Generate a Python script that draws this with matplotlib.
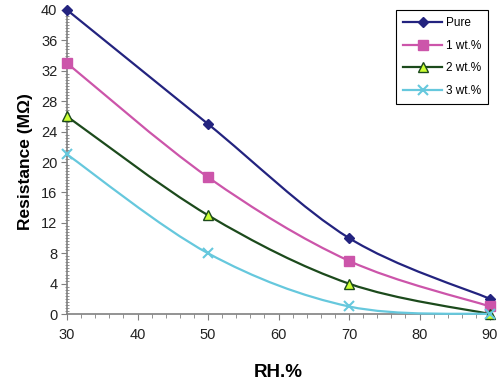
import matplotlib.pyplot as plt
import numpy as np
from matplotlib.path import Path
from matplotlib.patches import PathPatch
from matplotlib.lines import Line2D
from matplotlib.ticker import MultipleLocator

plt.rcParams['font.family'] = ['Liberation Sans', 'DejaVu Sans']

rh = [30, 50, 70, 90]
pure = [40, 25, 10, 2]
wt1 = [33, 18, 7, 1]
wt2 = [26, 13, 4, 0]
wt3 = [21, 8, 1, 0]
labels = ['Pure', '1 wt.%', '2 wt.%', '3 wt.%']


def smooth_path(xs, ys):
    # Excel-style smoothed line: cubic Bezier through each data point
    p = np.column_stack([xs, ys]).astype(float)
    n = len(p)
    verts = [p[0]]
    codes = [Path.MOVETO]
    for i in range(n - 1):
        p0 = p[i - 1] if i > 0 else p[i]
        p3 = p[i + 2] if i + 2 < n else p[i + 1]
        c1 = p[i] + (p[i + 1] - p0) / 6
        c2 = p[i + 1] - (p3 - p[i]) / 6
        verts += [c1, c2, p[i + 1]]
        codes += [Path.CURVE4] * 3
    return Path(verts, codes)


fig = plt.figure(figsize=(5.0, 3.83), dpi=100)
ax = fig.add_axes([0.134, 0.18, 0.846, 0.794])

series = [
    (pure, '#23237f', dict(marker='D', ms=5, mfc='#23237f', mec='#23237f')),
    (wt1, '#cc55aa', dict(marker='s', ms=7, mfc='#cc55aa', mec='#cc55aa')),
    (wt2, '#1c4a1c', dict(marker='^', ms=7, mfc='#ccff33', mec='#1c4a1c', mew=1)),
    (wt3, '#66c8dd', dict(marker='x', ms=7, mec='#66c8dd', mew=1.5)),
]

handles = []
for (vals, col, mk), lab in zip(series, labels):
    patch = PathPatch(smooth_path(rh, vals), facecolor='none', edgecolor=col,
                      lw=1.6, clip_on=False, zorder=3)
    ax.add_patch(patch)
    ax.plot(rh, vals, ls='none', clip_on=False, zorder=4, **mk)
    handles.append(Line2D([], [], color=col, lw=1.6, **mk))

ax.set_xlim(30, 90)
ax.set_ylim(0, 40)
ax.xaxis.set_major_locator(MultipleLocator(10))
ax.xaxis.set_minor_locator(MultipleLocator(2))
ax.yaxis.set_major_locator(MultipleLocator(4))
ax.yaxis.set_minor_locator(MultipleLocator(0.4))

for s in ['top', 'right']:
    ax.spines[s].set_visible(False)
for s in ['left', 'bottom']:
    ax.spines[s].set_color('#808080')
    ax.spines[s].set_linewidth(1.2)

ax.tick_params(axis='both', which='major', labelsize=10.5, color='#808080',
               length=4, direction='out', pad=3, labelcolor='#222222')
ax.tick_params(axis='x', which='minor', color='#808080', length=3, direction='out')
ax.tick_params(axis='y', which='minor', color='#808080', length=3, direction='inout')
ax.tick_params(axis='x', which='major', pad=6)

ax.set_xlabel('RH.%', fontsize=13.5, fontweight='bold', labelpad=16)
ax.set_ylabel('Resistance (MΩ)', fontsize=12.5, fontweight='bold', labelpad=6)

leg = ax.legend(handles, labels, loc='upper right', bbox_to_anchor=(0.995, 1.0),
                borderaxespad=0, fontsize=8.5, frameon=True, fancybox=False,
                framealpha=1, edgecolor='black', handlelength=3.3,
                handletextpad=0.3, borderpad=0.6, labelspacing=0.9)
leg.get_frame().set_linewidth(0.8)

fig.savefig('out.png', dpi=100)
